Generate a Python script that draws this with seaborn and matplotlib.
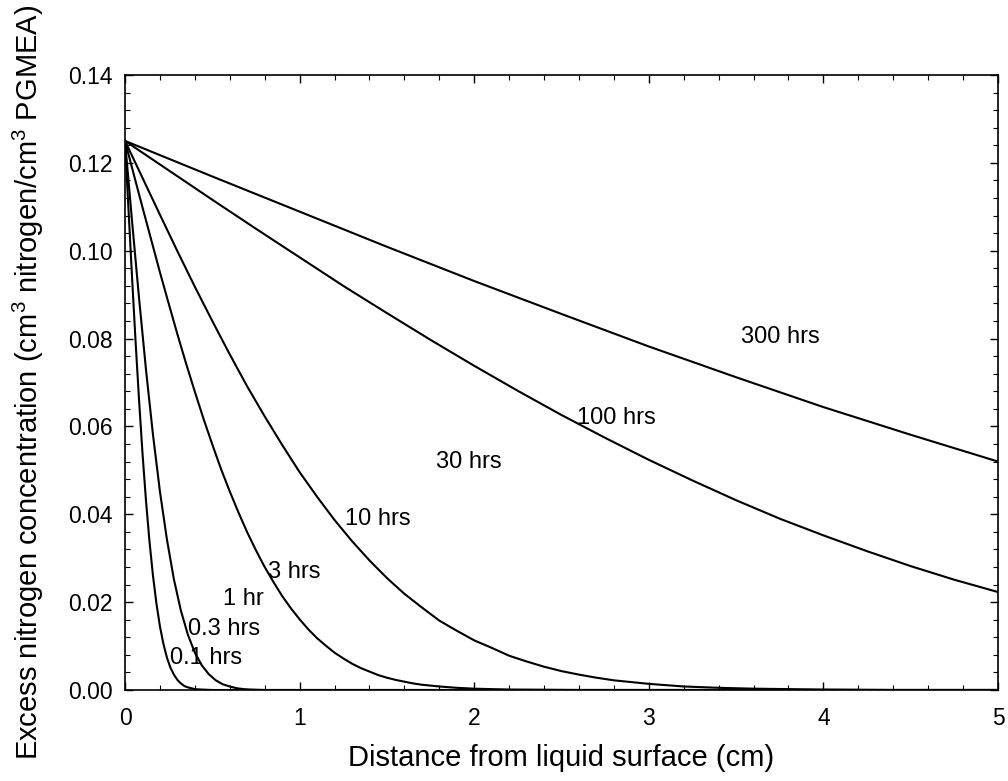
import matplotlib
matplotlib.use("Agg")
import matplotlib.pyplot as plt
import seaborn as sns
import pandas as pd
from matplotlib.ticker import MultipleLocator, FormatStrFormatter

# ---- data ----
x_01h = [0, 0.02, 0.04, 0.06, 0.08, 0.10, 0.12, 0.14, 0.16, 0.18, 0.20, 0.22, 0.24,
         0.26, 0.28, 0.30, 0.32, 0.34, 0.36, 0.38, 0.40, 0.44, 0.50, 5.0]
y_01h = [0.125, 0.1094, 0.0942, 0.0797, 0.0663, 0.0540, 0.0432, 0.0339, 0.0261, 0.0197,
         0.0145, 0.0105, 0.0074, 0.0051, 0.0035, 0.0023, 0.0015, 0.0009, 0.0006, 0.0004,
         0.0002, 0.0001, 0.0, 0.0]

x_03h = [0, 0.04, 0.08, 0.12, 0.16, 0.20, 0.24, 0.28, 0.32, 0.36, 0.40, 0.44, 0.48,
         0.52, 0.56, 0.60, 0.64, 0.68, 0.72, 0.80, 5.0]
y_03h = [0.125, 0.1069, 0.0894, 0.0730, 0.0582, 0.0452, 0.0343, 0.0252, 0.0181, 0.0126,
         0.0085, 0.0056, 0.0036, 0.0022, 0.0013, 0.0008, 0.0004, 0.0002, 0.0001, 0.0, 0.0]

x_3h = [0, 0.05, 0.1, 0.15, 0.2, 0.25, 0.3, 0.35, 0.4, 0.45, 0.5, 0.55, 0.6, 0.65,
        0.7, 0.75, 0.8, 0.85, 0.9, 0.95, 1.0, 1.05, 1.1, 1.15, 1.2, 1.25, 1.3, 1.35,
        1.4, 1.45, 1.5, 1.55, 1.6, 1.65, 1.7, 1.8, 1.9, 2.0, 2.1, 2.2, 2.6, 5.0]
y_3h = [0.125, 0.1174, 0.1099, 0.1025, 0.0951, 0.0880, 0.0810, 0.0743, 0.0679, 0.0617,
        0.0559, 0.0503, 0.0452, 0.0404, 0.0359, 0.0318, 0.0280, 0.0246, 0.0214, 0.0186,
        0.0161, 0.0138, 0.0118, 0.0101, 0.0085, 0.0072, 0.0060, 0.0050, 0.0042, 0.0034,
        0.0028, 0.0023, 0.0019, 0.0015, 0.0012, 0.0008, 0.0005, 0.0003, 0.0002, 0.0001,
        0.0, 0.0]

x_10h = [0, 0.1, 0.2, 0.3, 0.4, 0.5, 0.6, 0.7, 0.8, 0.9, 1.0, 1.1, 1.2, 1.3, 1.4, 1.5,
         1.6, 1.7, 1.8, 1.9, 2.0, 2.1, 2.2, 2.3, 2.4, 2.5, 2.6, 2.7, 2.8, 2.9, 3.0, 3.1,
         3.2, 3.4, 3.6, 3.8, 4.0, 4.4, 5.0]
y_10h = [0.125, 0.1166, 0.1082, 0.0999, 0.0918, 0.0840, 0.0764, 0.0691, 0.0623, 0.0558,
         0.0496, 0.0440, 0.0387, 0.0339, 0.0295, 0.0255, 0.0219, 0.0188, 0.0158, 0.0135,
         0.0113, 0.0096, 0.0078, 0.0065, 0.0053, 0.0043, 0.0035, 0.0028, 0.0022, 0.0018,
         0.0014, 0.0011, 0.0008, 0.0005, 0.0003, 0.0002, 0.0001, 0.0, 0.0]

x_100h = [0, 0.25, 0.5, 0.75, 1.0, 1.25, 1.5, 1.75, 2.0, 2.25, 2.5, 2.75, 3.0, 3.25,
          3.5, 3.75, 4.0, 4.25, 4.5, 4.75, 5.0]
y_100h = [0.125, 0.1183, 0.1116, 0.1050, 0.0985, 0.0920, 0.0858, 0.0797, 0.0738, 0.0681,
          0.0626, 0.0574, 0.0524, 0.0477, 0.0432, 0.0390, 0.0352, 0.0316, 0.0282, 0.0251,
          0.0223]

x_300h = [0, 0.5, 1.0, 1.5, 2.0, 2.5, 3.0, 3.5, 4.0, 4.5, 5.0]
y_300h = [0.125, 0.1169, 0.1089, 0.1009, 0.0931, 0.0856, 0.0782, 0.0712, 0.0644, 0.0581,
          0.0520]

curve_names = ["0.1 hrs", "0.3 hrs", "3 hrs", "10 hrs", "100 hrs", "300 hrs"]
curve_x = [x_01h, x_03h, x_3h, x_10h, x_100h, x_300h]
curve_y = [y_01h, y_03h, y_3h, y_10h, y_100h, y_300h]

label_texts = ["300 hrs", "100 hrs", "30 hrs", "10 hrs", "3 hrs", "1 hr", "0.3 hrs", "0.1 hrs"]
label_x = [3.53, 2.59, 1.78, 1.26, 0.82, 0.56, 0.36, 0.26]
label_y = [0.0804, 0.0619, 0.0519, 0.0389, 0.0269, 0.0207, 0.0139, 0.0073]

x_ticks = [0, 1, 2, 3, 4, 5]
y_ticks = [0.00, 0.02, 0.04, 0.06, 0.08, 0.10, 0.12, 0.14]

# ---- figure ----
sns.set_theme(style="ticks")
plt.rcParams["font.family"] = ["Liberation Sans", "DejaVu Sans"]
plt.rcParams["mathtext.fontset"] = "custom"
plt.rcParams["mathtext.rm"] = "Liberation Sans"

fig = plt.figure(figsize=(10.08, 7.81), dpi=100)
ax = fig.add_axes([125 / 1008, 1 - 690 / 781, (998 - 125) / 1008, (690 - 75) / 781])

frames = []
for name, xs, ys in zip(curve_names, curve_x, curve_y):
    frames.append(pd.DataFrame({"x": xs, "y": ys, "curve": name}))
df = pd.concat(frames, ignore_index=True)

sns.lineplot(data=df, x="x", y="y", hue="curve",
             palette=["black"] * len(curve_names), sort=False,
             estimator=None, legend=False, linewidth=1.5, ax=ax)

for t, xx, yy in zip(label_texts, label_x, label_y):
    ax.text(xx, yy, t, ha="left", va="center", fontsize=17, color="black")

ax.set_xlim(0, 5)
ax.set_ylim(0, 0.14)
ax.set_xticks(x_ticks)
ax.set_yticks(y_ticks)
ax.xaxis.set_minor_locator(MultipleLocator(0.2))
ax.yaxis.set_minor_locator(MultipleLocator(0.004))
ax.yaxis.set_major_formatter(FormatStrFormatter("%.2f"))
ax.xaxis.set_major_formatter(FormatStrFormatter("%d"))

ax.tick_params(which="both", direction="in", top=True, right=True, colors="black",
               labelsize=16.5)
ax.tick_params(which="major", length=6, width=1)
ax.tick_params(which="minor", length=3.5, width=0.8)
ax.tick_params(axis="x", which="major", pad=12)
ax.tick_params(axis="y", which="major", pad=9)
for sp in ax.spines.values():
    sp.set_color("black")
    sp.set_linewidth(1.2)

ax.set_xlabel("Distance from liquid surface (cm)", fontsize=21, labelpad=10, color="black")
ax.set_ylabel("Excess nitrogen concentration (cm$^3$ nitrogen/cm$^3$ PGMEA)",
              fontsize=21, labelpad=16, color="black")

fig.savefig("out.png", dpi=100, facecolor="white")
